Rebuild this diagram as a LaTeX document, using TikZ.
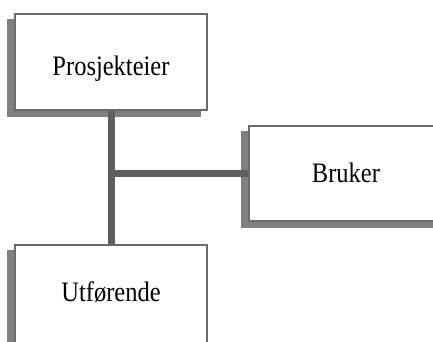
\documentclass[tikz,border=0pt]{standalone}
\usepackage{fontspec}
\setmainfont{Liberation Serif}
\usetikzlibrary{backgrounds}
\definecolor{framec}{HTML}{6C6C6C}
\definecolor{shadowc}{HTML}{808080}
\definecolor{linkc}{HTML}{5E5E5E}
\tikzset{
  orgbox/.style={draw=framec, line width=1.2pt, fill=white, rectangle, inner sep=0pt},
  orgtext/.style={anchor=base, inner sep=0pt,
    font=\fontsize{24.5}{28}\selectfont},
  boxshadow/.style={fill=shadowc},
  link/.style={draw=linkc, line width=7pt}
}
\newcommand{\tallword}[1]{\scalebox{1}[1.15]{#1}}
\begin{document}
\begin{tikzpicture}[x=1pt, y=-1pt]
  \useasboundingbox (0,0) rectangle (433,341);

  % boxes
  \node[orgbox, minimum width=192pt, minimum height=96pt] (p) at (111,62) {};
  \node[orgbox, minimum width=194pt, minimum height=95pt] (b) at (346,173.4) {};
  \node[orgbox, minimum width=192pt, minimum height=98pt] (u) at (111,294) {};

  % labels
  \node[orgtext] (pt) at (111,75) {\tallword{Prosjekteier}};
  \node[orgtext] (bt) at (346,182.7) {\tallword{Bruker}};
  \node[orgtext] (ut) at (111,301.7) {\tallword{Utførende}};

  \coordinate (j) at (p.south |- b.west);

  \begin{scope}[on background layer]
    % drop shadows, offset to the lower left
    \foreach \n in {p,b,u}{
      \fill[boxshadow] ([shift={(-7,6)}]\n.south west) rectangle ([shift={(-7,6)}]\n.north east);
    }
    % connectors
    \draw[link] (p.south) -- (u.north);
    \draw[link] ([xshift=-3.5pt]j) -- (b.west);
  \end{scope}
\end{tikzpicture}
\end{document}
